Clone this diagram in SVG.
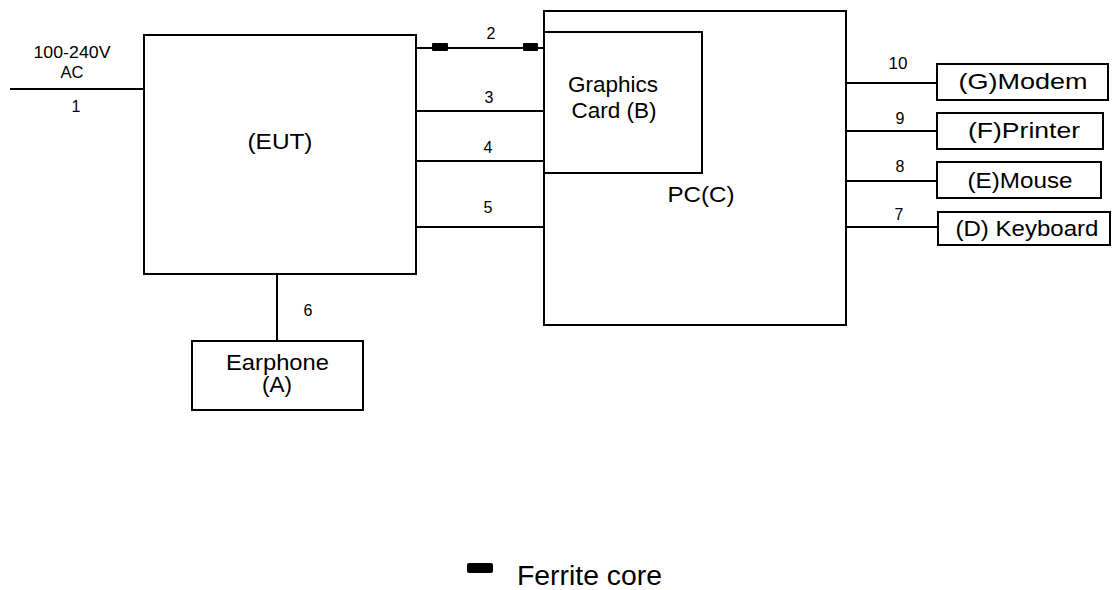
<svg xmlns="http://www.w3.org/2000/svg" width="1113" height="590" viewBox="0 0 1113 590">
<style>
.box{fill:none;stroke:#000;stroke-width:2}
.ln{stroke:#000;stroke-width:2;fill:none}
.fc{fill:#000}
text{font-family:"Liberation Sans",Arial,sans-serif;fill:#000;text-anchor:middle}
.s{font-size:16px}
.m{font-size:21.5px}
.l{font-size:27px;text-anchor:start}
</style>
<rect width="1113" height="590" fill="#fff"/>
<g id="connectors">
<line class="ln" x1="10" y1="89" x2="144" y2="89"/>
<line class="ln" x1="416" y1="48" x2="544" y2="48"/>
<rect class="fc" x="432" y="43" width="16" height="8" rx="1"/>
<rect class="fc" x="523" y="43" width="15" height="8" rx="1"/>
<line class="ln" x1="416" y1="111" x2="544" y2="111"/>
<line class="ln" x1="416" y1="161" x2="544" y2="161"/>
<line class="ln" x1="416" y1="227" x2="544" y2="227"/>
<line class="ln" x1="277" y1="274" x2="277" y2="341"/>
<line class="ln" x1="846" y1="83" x2="937" y2="83"/>
<line class="ln" x1="846" y1="131" x2="937" y2="131"/>
<line class="ln" x1="846" y1="181" x2="937" y2="181"/>
<line class="ln" x1="846" y1="227" x2="937" y2="227"/>
<text class="s" x="72" y="58" textLength="77" lengthAdjust="spacingAndGlyphs">100-240V</text>
<text class="s" x="72" y="78" textLength="23" lengthAdjust="spacingAndGlyphs">AC</text>
<text class="s" x="76" y="112">1</text>
<text class="s" x="491" y="39">2</text>
<text class="s" x="489" y="103">3</text>
<text class="s" x="488" y="153">4</text>
<text class="s" x="488" y="213">5</text>
<text class="s" x="308" y="316">6</text>
<text class="s" x="899" y="220">7</text>
<text class="s" x="900" y="172">8</text>
<text class="s" x="900" y="124">9</text>
<text class="s" x="898" y="69" textLength="19" lengthAdjust="spacingAndGlyphs">10</text>
</g>
<g id="eut">
<rect class="box" x="144" y="35" width="272" height="239"/>
<text class="m" x="280" y="149" textLength="65" lengthAdjust="spacingAndGlyphs">(EUT)</text>
</g>
<g id="pc">
<rect class="box" x="544" y="11" width="302" height="314"/>
<text class="m" x="701" y="202" textLength="67" lengthAdjust="spacingAndGlyphs">PC(C)</text>
</g>
<g id="graphics-card">
<rect class="box" x="544" y="32" width="158" height="141"/>
<text class="m" x="613" y="92" textLength="90" lengthAdjust="spacingAndGlyphs">Graphics</text>
<text class="m" x="614" y="118" textLength="85" lengthAdjust="spacingAndGlyphs">Card (B)</text>
</g>
<g id="earphone">
<rect class="box" x="192" y="341" width="171" height="69"/>
<text class="m" x="277.5" y="370" textLength="103" lengthAdjust="spacingAndGlyphs">Earphone</text>
<text class="m" x="277" y="392" textLength="30" lengthAdjust="spacingAndGlyphs">(A)</text>
</g>
<g id="modem">
<rect class="box" x="937" y="64" width="171" height="36"/>
<text class="m" x="1023" y="89" textLength="129" lengthAdjust="spacingAndGlyphs">(G)Modem</text>
</g>
<g id="printer">
<rect class="box" x="937" y="113" width="166" height="36"/>
<text class="m" x="1024" y="138" textLength="112" lengthAdjust="spacingAndGlyphs">(F)Printer</text>
</g>
<g id="mouse">
<rect class="box" x="937" y="162" width="164" height="36"/>
<text class="m" x="1020" y="188" textLength="105" lengthAdjust="spacingAndGlyphs">(E)Mouse</text>
</g>
<g id="keyboard">
<rect class="box" x="938" y="212" width="172" height="33"/>
<text class="m" x="1027" y="236" textLength="143" lengthAdjust="spacingAndGlyphs">(D) Keyboard</text>
</g>
<g id="legend">
<rect class="fc" x="467" y="563" width="26" height="10" rx="2"/>
<text class="l" x="517" y="585" textLength="145" lengthAdjust="spacingAndGlyphs">Ferrite core</text>
</g>
</svg>
